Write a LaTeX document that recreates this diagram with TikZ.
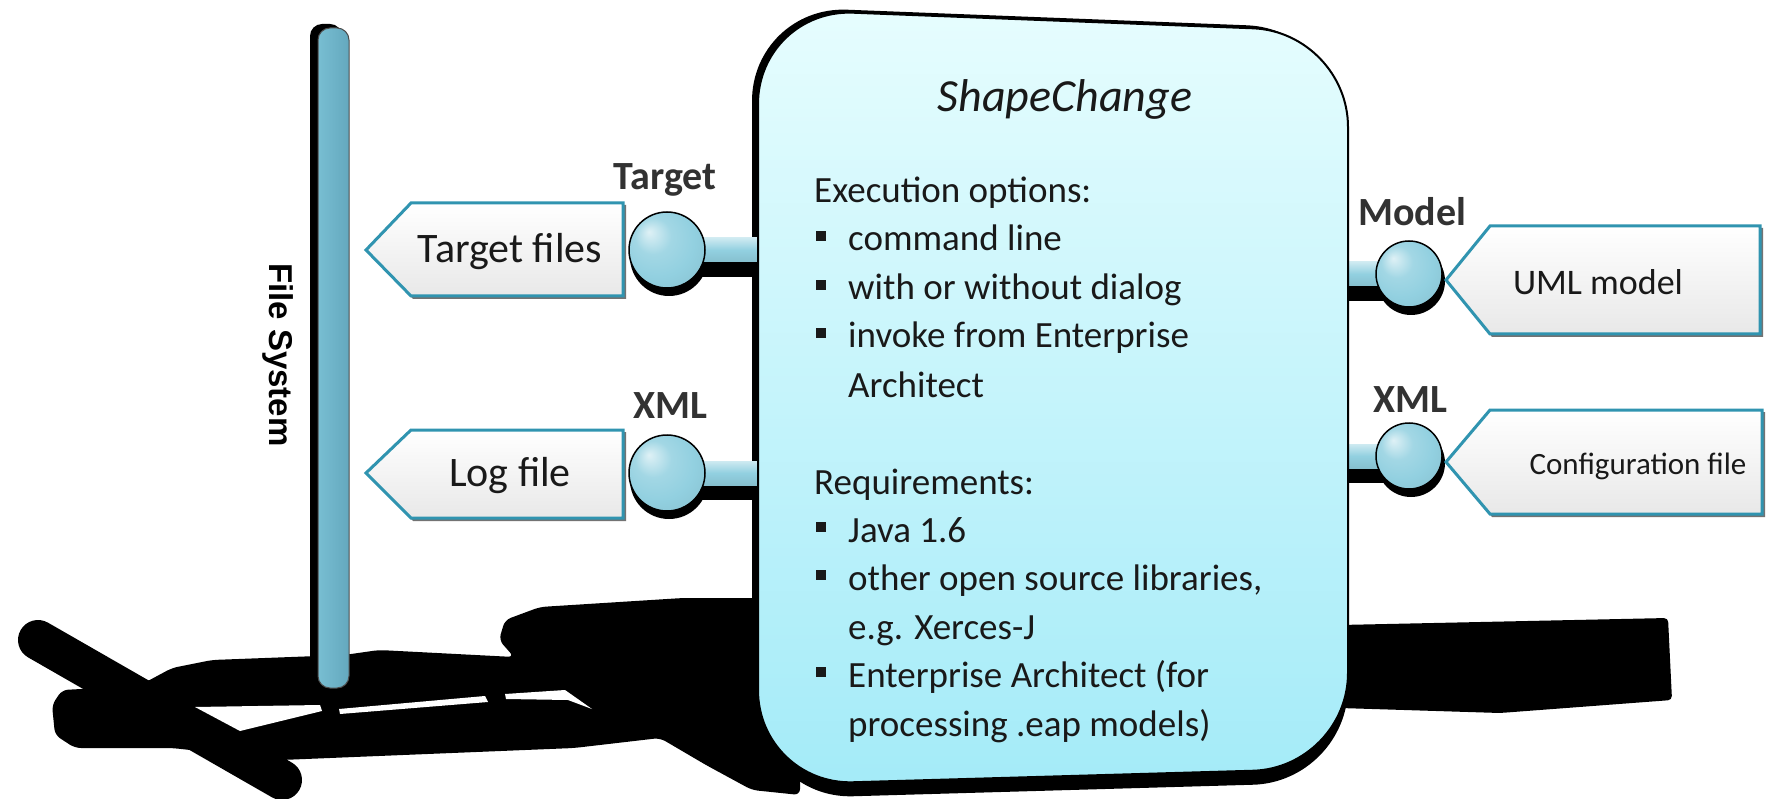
\documentclass[tikz,border=0pt]{standalone}
\usepackage{fontspec}
\setmainfont{Carlito}
\newfontfamily\fsfont{Liberation Sans}
\usetikzlibrary{calc}
\definecolor{ballc}{RGB}{146,208,224}
\definecolor{tealb}{RGB}{48,148,176}
\definecolor{boxtop}{RGB}{230,253,254}
\definecolor{boxbot}{RGB}{164,235,248}
\definecolor{lblc}{RGB}{50,50,50}
\definecolor{txtc}{RGB}{25,25,25}
\definecolor{poleL}{RGB}{120,190,210}
\definecolor{poleM}{RGB}{172,226,240}
\definecolor{poleR}{RGB}{100,168,190}
\pgfdeclareradialshading{lolly}{\pgfpoint{-12bp}{12bp}}{color(0bp)=(ballc!30!white); color(12bp)=(ballc!85!white); color(24bp)=(ballc); color(40bp)=(ballc!92!black); color(50bp)=(ballc!85!black)}
\tikzset{
  lollyball/.style={circle, draw=black, line width=1.5pt, shade, shading=lolly, inner sep=0pt},
  lbl/.style={font=\bfseries\fontsize{40}{44}\selectfont, text=lblc, inner sep=0pt},
  body/.style={font=\fontsize{37}{44}\selectfont, text=txtc, anchor=base west, inner sep=0pt},
  bul/.style={fill=txtc, minimum size=10pt, inner sep=0pt},
  penta/.style={draw=tealb, line width=3pt, top color=white, bottom color=black!9, line join=miter},
  pentash/.style={fill=black!55},
  stemsh/.style={top color=ballc!45!white, bottom color=ballc!92!black, middle color=ballc},
  ptext/.style={font=\fontsize{42}{46}\selectfont, text=txtc, inner sep=0pt},
}
\def\boxpath{(758,785) -- (758,9) -- (1348,32) -- (1348,768) -- cycle}
\begin{document}
\begin{tikzpicture}[x=1pt,y=-1pt]
\useasboundingbox (0,0) rectangle (1769,799);
\fill[white] (0,0) rectangle (1769,799);

% ---------- floor shadow ----------
\fill[black, rounded corners=6pt] (800,598) -- (683,598) -- (540,607) -- (505,620) -- (499,640) -- (514,657)
  -- (379,650) -- (344,655) -- (212,660) -- (172,668) -- (146,682) -- (120,687) -- (62,690) -- (52,705)
  -- (55,735) -- (75,748) -- (172,748) -- (281,760) -- (574,748) -- (660,738) -- (706,765) -- (752,790)
  -- (800,795) -- cycle;
\draw[black, line width=40pt, line cap=round] (38,640) -- (282,780);
\fill[white] (195,707) -- (320,705) -- (322,711) -- (240,731) -- cycle;
\fill[white] (339,709) -- (485,696) -- (488,702) -- (340,714) -- cycle;
\fill[white] (505,694) -- (565,690) -- (592,709) -- (568,700) -- (506,699) -- cycle;
\fill[black, rounded corners=4pt] (1340,625) -- (1668,618) -- (1672,700) -- (1500,713) -- (1340,708) -- cycle;

% ---------- pole ----------
\fill[black, rounded corners=12pt] (310,24) rectangle (342,687);
\shade[rounded corners=12pt, left color=poleL, middle color=poleM, right color=poleR] (318,28) rectangle (349,688);
\draw[black!70, line width=1pt, rounded corners=12pt] (318,28) rectangle (349,688);
\node[font=\fsfont\bfseries\fontsize{33}{36}\selectfont, rotate=-90, inner sep=0pt] (fs) at (278,355) {File System};

% ---------- box shadow ----------
\fill[black, shift={(-6,-3)}, rounded corners=95pt] \boxpath;
\fill[black, shift={(0,14)}, rounded corners=95pt] \boxpath;

% ---------- anchor coordinates ----------
\coordinate (bl1) at (762,250);
\coordinate (bl2) at (762,473);
\coordinate (br1) at (1344,274);
\coordinate (br2) at (1344,456);
\coordinate (tbc) at (667,250);
\coordinate (lbc) at (667,473);
\coordinate (mbc) at (1400,274);
\coordinate (cbc) at (1400,456);

% ---------- left lollipops ----------
\fill[black] ($(tbc)+(2,7)$) circle (39pt);
\fill[black] ($(lbc)+(2,7)$) circle (39pt);
\fill[black] (tbc) rectangle ($(bl1)+(0,27)$);
\fill[black] (lbc) rectangle ($(bl2)+(0,27)$);
\shade[stemsh] ($(tbc)+(0,-12)$) rectangle ($(bl1)+(0,12)$);
\shade[stemsh] ($(lbc)+(0,-12)$) rectangle ($(bl2)+(0,12)$);
\node[lollyball, minimum size=76pt] (tb) at (tbc) {};
\node[lollyball, minimum size=76pt] (lb) at (lbc) {};
\node[lbl] (lt) at (665,180) {Target};
\node[lbl] (lx) at (670,406) {XML};

% ---------- right lollipops ----------
\fill[black] (1411,281) circle (34pt);
\fill[black] (1411,463) circle (34pt);
\fill[black] (br1) rectangle ($(mbc)+(0,27)$);
\fill[black] (br2) rectangle ($(cbc)+(0,27)$);
\shade[stemsh] ($(br1)+(0,-12)$) rectangle ($(mbc)+(0,12)$);
\shade[stemsh] ($(br2)+(0,-12)$) rectangle ($(cbc)+(0,12)$);
\node[lollyball, minimum size=66pt] (mb) at (1409,274) {};
\node[lollyball, minimum size=66pt] (cb) at (1409,456) {};
\node[lbl] (rm) at (1412,212) {Model};
\node[lbl] (rx) at (1410,400) {XML};

% ---------- left pentagons ----------
\fill[pentash] (368,252) -- (413,205) -- (626,205) -- (626,299) -- (413,299) -- cycle;
\path[penta] (366,250) -- (411,203) -- (623,203) -- (623,296) -- (411,296) -- cycle;
\node[ptext] (tf) at (510,252) {Target files};
\fill[pentash] (368,475) -- (413,432) -- (626,432) -- (626,521) -- (413,521) -- cycle;
\path[penta] (366,473) -- (411,430) -- (623,430) -- (623,518) -- (411,518) -- cycle;
\node[ptext] (lf) at (510,476) {Log file};

% ---------- right pentagons ----------
\fill[pentash] (1448,282) -- (1492,228) -- (1763,228) -- (1763,337) -- (1492,337) -- cycle;
\path[penta] (1446,280) -- (1490,226) -- (1760,226) -- (1760,334) -- (1490,334) -- cycle;
\node[ptext, font=\fontsize{36}{40}\selectfont] (um) at (1598,282) {UML model};
\fill[pentash] (1448,464) -- (1492,412) -- (1765,412) -- (1765,517) -- (1492,517) -- cycle;
\path[penta] (1446,462) -- (1490,410) -- (1762,410) -- (1762,514) -- (1490,514) -- cycle;
\node[ptext, font=\fontsize{31}{34}\selectfont] (cf) at (1638,466) {Configuration file};

% ---------- main box ----------
\shade[top color=boxtop, bottom color=boxbot, rounded corners=95pt] \boxpath;
\draw[black, line width=2pt, rounded corners=95pt] \boxpath;

\node[font=\itshape\fontsize{46}{50}\selectfont, text=txtc, anchor=base, inner sep=0pt] (title) at (1065,112) {ShapeChange};

\node[body] (e0) at (814,203) {Execution options:};
\node[bul] (b1) at (821,236) {};
\node[body] (e1) at (848,251) {command line};
\node[bul] (b2) at (821,285) {};
\node[body] (e2) at (848,300) {with or without dialog};
\node[bul] (b3) at (821,333) {};
\node[body] (e3) at (848,348) {invoke from Enterprise};
\node[body] (e4) at (848,397) {Architect};
\node[body] (r0) at (814,494) {Requirements:};
\node[bul] (b4) at (821,527) {};
\node[body] (r1) at (848,542) {Java 1.6};
\node[bul] (b5) at (821,575) {};
\node[body] (r2) at (848,590) {other open source libraries,};
\node[body] (r3) at (848,639) {e.g. Xerces-J};
\node[bul] (b6) at (821,672) {};
\node[body] (r4) at (848,687) {Enterprise Architect (for};
\node[body] (r5) at (848,736) {processing .eap models)};
\end{tikzpicture}
\end{document}
